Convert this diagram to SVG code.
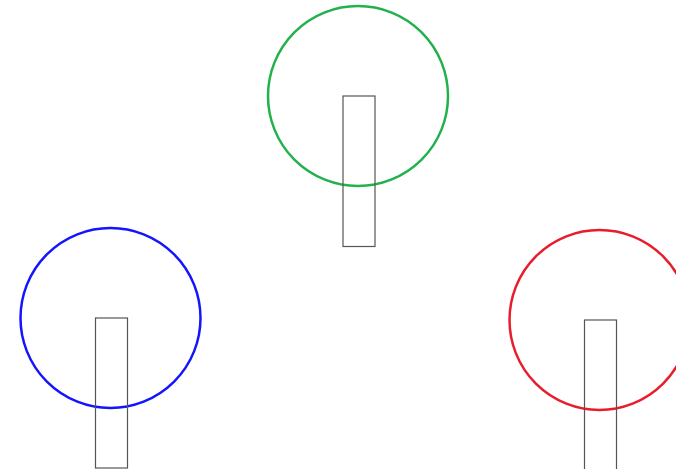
<svg xmlns="http://www.w3.org/2000/svg" width="676" height="469" viewBox="0 0 676 469">
<style>
.c{fill:none;stroke-width:2.5}
.r{fill:none;stroke:#555;stroke-width:1.2}
</style>
<rect width="676" height="469" fill="#fff"/>
<g id="green">
<circle class="c" cx="358" cy="96" r="90" stroke="#22b14c"/>
<rect class="r" x="343" y="96" width="32" height="150.5"/>
</g>
<g id="blue">
<circle class="c" cx="110.5" cy="318" r="90" stroke="#1414ff"/>
<rect class="r" x="95.5" y="318" width="32" height="150"/>
</g>
<g id="red">
<circle class="c" cx="599.5" cy="320" r="90" stroke="#e81c2a"/>
<rect class="r" x="584.5" y="320" width="32" height="150"/>
</g>
<g id="connectors"/>
</svg>
